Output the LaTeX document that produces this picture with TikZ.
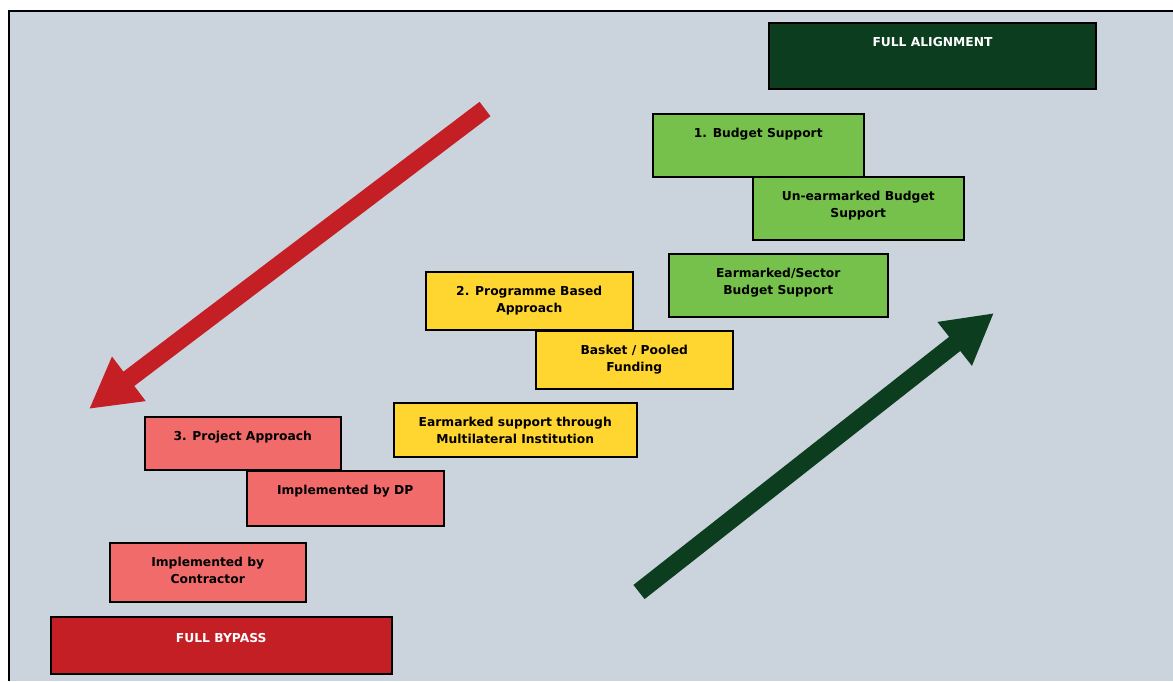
\documentclass[tikz,border=0pt]{standalone}
\usepackage{fontspec}
\setmainfont{DejaVu Sans}
\usetikzlibrary{arrows.meta}
\definecolor{bgc}{HTML}{CBD3DD}
\definecolor{dkgreen}{HTML}{0B3D1E}
\definecolor{ltgreen}{HTML}{76C14B}
\definecolor{yel}{HTML}{FFD530}
\definecolor{salmon}{HTML}{F26B6B}
\definecolor{dkred}{HTML}{C31F25}
\begin{document}
\begin{tikzpicture}[x=1pt,y=-1pt,
  box/.style={draw=black, line width=1.5pt, rectangle, anchor=north west, inner sep=0pt},
  lbl/.style={font=\bfseries\fontsize{12.3}{17}\selectfont, align=center, anchor=north, inner sep=0pt, yshift=-15pt},
  bigarrow/.style={line width=18pt, -{Triangle[length=50pt,width=52pt]}}]
\useasboundingbox (0,0) rectangle (1173,681);
\fill[white] (0,0) rectangle (1173,681);
\fill[bgc] (9,11) rectangle (1173,681);
\draw[line width=2pt] (9,681) -- (9,11) -- (1173,11);

% green group
\node[box, fill=dkgreen, line width=2pt, minimum width=327pt, minimum height=66pt] (fa) at (768,22) {};
\node[lbl, text=white] (fat) at (fa.north) {FULL ALIGNMENT};
\node[box, fill=ltgreen, minimum width=211pt, minimum height=63pt] (bs) at (652,113) {};
\node[lbl] (bst) at (bs.north) {1. Budget Support};
\node[box, fill=ltgreen, minimum width=211pt, minimum height=63pt] (ub) at (752,176) {};
\node[lbl] (ubt) at (ub.north) {Un-earmarked Budget\\Support};
\node[box, fill=ltgreen, minimum width=219pt, minimum height=63pt] (es) at (668,253) {};
\node[lbl] (est) at (es.north) {Earmarked/Sector\\Budget Support};

% yellow group
\node[box, fill=yel, minimum width=207pt, minimum height=58pt] (pb) at (425,271) {};
\node[lbl] (pbt) at (pb.north) {2. Programme Based\\Approach};
\node[box, fill=yel, minimum width=197pt, minimum height=58pt] (bp) at (535,330) {};
\node[lbl] (bpt) at (bp.north) {Basket / Pooled\\Funding};
\node[box, fill=yel, minimum width=243pt, minimum height=54pt] (em) at (393,402) {};
\node[lbl] (emt) at (em.north) {Earmarked support through\\Multilateral Institution};

% red group
\node[box, fill=salmon, minimum width=196pt, minimum height=53pt] (pa) at (144,416) {};
\node[lbl] (pat) at (pa.north) {3. Project Approach};
\node[box, fill=salmon, minimum width=197pt, minimum height=55pt] (dp) at (246,470) {};
\node[lbl] (dpt) at (dp.north) {Implemented by DP};
\node[box, fill=salmon, minimum width=196pt, minimum height=59pt] (ic) at (109,542) {};
\node[lbl] (ict) at (ic.north) {Implemented by\\Contractor};
\node[box, fill=dkred, minimum width=341pt, minimum height=57pt] (fb) at (50,616) {};
\node[lbl, text=white, yshift=-2pt] (fbt) at (fb.north) {FULL BYPASS};

% arrows
\coordinate (r1) at (485,109);
\coordinate (r2) at (89,409);
\draw[bigarrow, dkred] (r1) -- (r2);
\coordinate (g1) at (639,592);
\coordinate (g2) at (994,313);
\draw[bigarrow, dkgreen] (g1) -- (g2);
\end{tikzpicture}
\end{document}
